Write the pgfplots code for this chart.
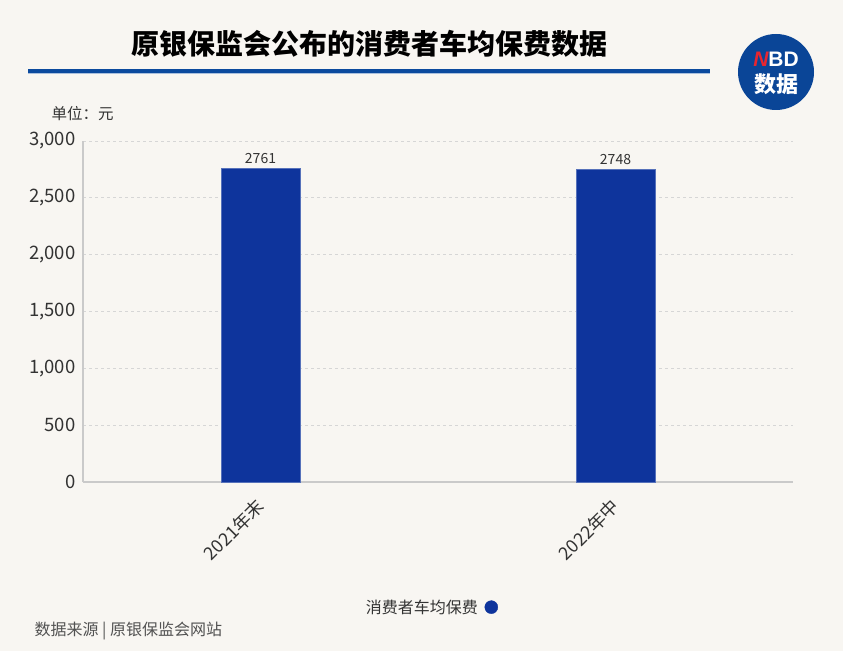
\documentclass[border=0pt]{standalone}
\usepackage{fontspec}
\setmainfont{Noto Sans CJK SC}
\newfontfamily\logofont{Liberation Sans}
\usepackage{pgfplots}
\pgfplotsset{compat=1.18}

\definecolor{bgc}{HTML}{F8F6F2}
\definecolor{barblue}{HTML}{0E349C}
\definecolor{titleblue}{HTML}{0B4A9E}
\definecolor{logoblue}{HTML}{0A4597}
\definecolor{logored}{HTML}{E8262F}
\definecolor{axisgray}{HTML}{CACACA}
\definecolor{gridgray}{HTML}{D6D6D6}
\definecolor{txt}{HTML}{333333}

\begin{document}
\begin{tikzpicture}[x=1pt,y=1pt]
\fill[bgc] (0,0) rectangle (843,651);
\useasboundingbox (0,0) rectangle (843,651);

% title and rule
\node[font=\fontsize{28}{31}\selectfont\bfseries, text=black] at (369,607) {原银保监会公布的消费者车均保费数据};
\fill[titleblue] (28,578) rectangle (710,582);
\fill[titleblue!35] (28,577) rectangle (710,578);

% logo
\fill[logoblue] (776,579) circle (38);
\node[font=\logofont\fontsize{21}{22}\selectfont\bfseries, text=white] at (776,592) {\textcolor{logored}{\itshape N}BD};
\node[font=\fontsize{22}{24}\selectfont\bfseries, text=white] at (776,567) {数据};

\node[font=\fontsize{15.5}{17}\selectfont, text=txt, anchor=west] at (48,537) {单位：元};

\begin{axis}[
    at={(83pt,169pt)}, anchor=south west,
    scale only axis, width=710pt, height=341pt,
    xmin=-0.5, xmax=1.5, ymin=0, ymax=3000,
    axis x line*=bottom, axis y line*=left,
    axis line style={draw=axisgray, line width=1.6pt, -},
    major tick style={draw=none},
    ytick={0,500,...,3000},
    ymajorgrids, grid style={dashed, gridgray, line width=0.8pt},
    xtick={0,1}, xticklabels={2021年末,2022年中},
    /pgf/number format/assume math mode=true,
    /pgf/number format/1000 sep={,},
    yticklabel style={font=\fontsize{18.5}{20}\selectfont, text=txt, xshift=-4pt},
    xticklabel style={font=\fontsize{18}{19}\selectfont, text=txt, rotate=45, anchor=north east, xshift=-8pt, yshift=0pt},
    ybar, bar width=79pt,
    point meta=explicit symbolic,
    nodes near coords={\pgfplotspointmeta},
    nodes near coords style={font=\fontsize{14}{15}\selectfont, text=txt, yshift=1pt},
    legend style={at={(0.49,-0.367)}, anchor=center, draw=none, fill=none,
        font=\fontsize{16}{17}\selectfont, text=txt},
    legend plot pos=right,
    legend image code/.code={\path[fill=none, draw=none] (0,-6.5pt) rectangle (1.7em,6.5pt); \fill[barblue] (1.15em,0) circle (6.5pt);},
]
\addplot[fill=barblue, draw=barblue!70!white] coordinates {(0,2761) [2761] (1,2748) [2748]};
\addlegendentry{消费者车均保费}
\end{axis}

\node[font=\fontsize{16}{17}\selectfont, text=txt!85!white, anchor=west] at (31,20) {数据来源 | 原银保监会网站};
\end{tikzpicture}
\end{document}
